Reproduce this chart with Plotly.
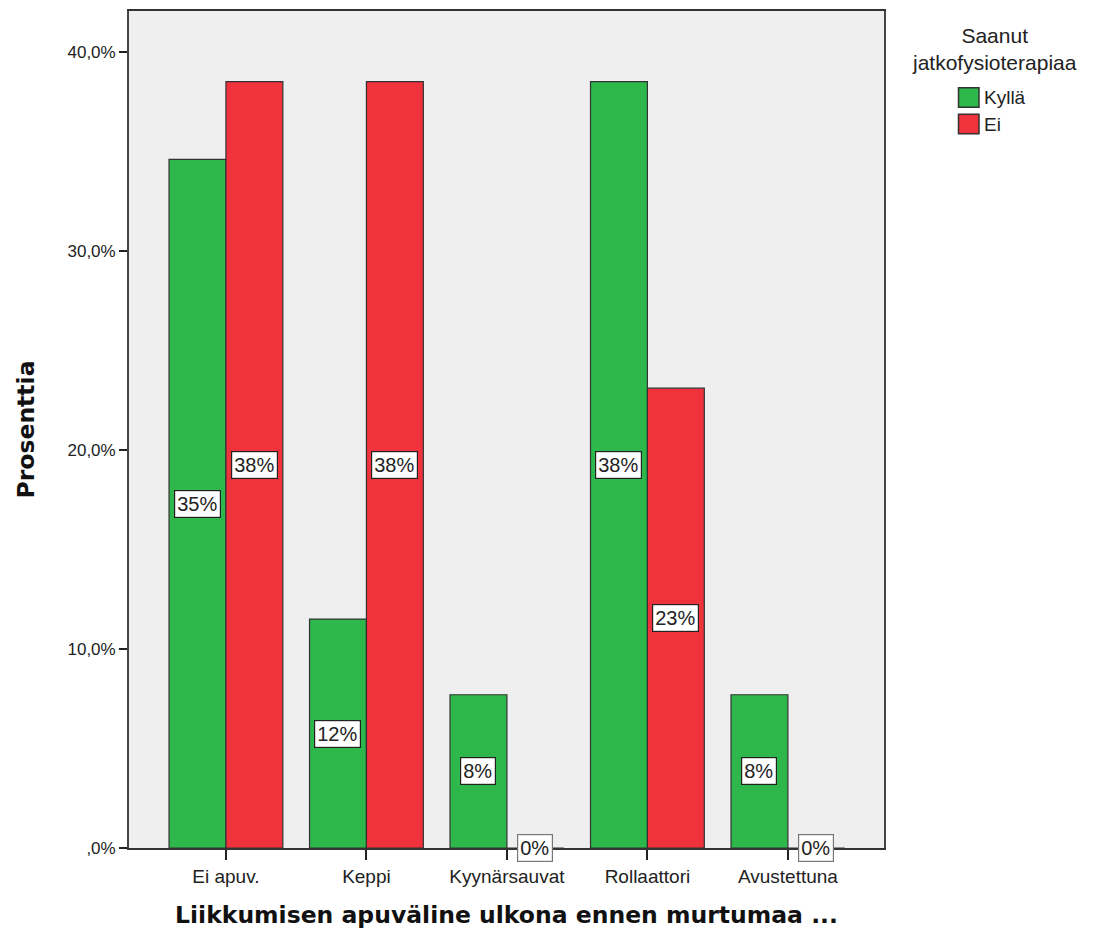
import plotly.graph_objects as go

categories = ["Ei apuv.", "Keppi", "Kyynärsauvat", "Rollaattori", "Avustettuna"]
kylla = [34.6, 11.5, 7.7, 38.5, 7.7]
ei = [38.5, 38.5, 0.0, 23.1, 0.0]
kylla_labels = ["35%", "12%", "8%", "38%", "8%"]
ei_labels = ["38%", "38%", "0%", "23%", "0%"]
series_names = ["Kyllä", "Ei"]
legend_title = ["Saanut", "jatkofysioterapiaa"]
y_tickvals = [0, 10, 20, 30, 40]
y_ticktext = [",0%", "10,0%", "20,0%", "30,0%", "40,0%"]

GREEN = "#2eb84c"
RED = "#f0323c"
EDGE = "#333333"
FONT = "Liberation Sans, Arial"
xs = list(range(len(categories)))

# page body has an 8px margin; plot area should be at screen x 129..884, y 8..848
W, H = 1095, 930
L, T = 121, 1
PW, PH = 755, 839
R = W - L - PW
B = H - T - PH


def px(xs_):
    return (xs_ - 129) / PW


def py(ys_):
    return (848 - ys_) / PH


fig = go.Figure()
fig.add_trace(go.Bar(x=xs, y=kylla, name=series_names[0],
                     marker=dict(color=GREEN, line=dict(color=EDGE, width=1.2)), offsetgroup="a"))
fig.add_trace(go.Bar(x=xs, y=ei, name=series_names[1],
                     marker=dict(color=RED, line=dict(color=EDGE, width=1.2)), offsetgroup="b"))

bargap = 0.19
half = (1 - bargap) / 4
annotations = []
for vals, labs, sign in [(kylla, kylla_labels, -1), (ei, ei_labels, 1)]:
    for i, (v, t) in enumerate(zip(vals, labs)):
        annotations.append(dict(
            x=i + sign * half, y=v / 2, xref="x", yref="y", text=t, showarrow=False,
            font=dict(family=FONT, size=20, color="#222"),
            bgcolor="white", bordercolor="#222" if v > 0 else "#777", borderwidth=1.2, borderpad=2,
        ))

# custom legend (title + swatches)
annotations.append(dict(x=px(994), y=py(47), xref="paper", yref="paper",
                        text="<br>".join(legend_title),
                        showarrow=False, xanchor="center", yanchor="middle", align="center",
                        font=dict(family=FONT, size=21, color="#222")))
shapes = []
for k, (name, col) in enumerate(zip(series_names, [GREEN, RED])):
    top = 86 + k * 26.5
    shapes.append(dict(type="rect", xref="paper", yref="paper",
                       x0=px(958.5), x1=px(979), y0=py(top + 19.5), y1=py(top),
                       fillcolor=col, line=dict(color=EDGE, width=1.5)))
    annotations.append(dict(x=px(982), y=py(top + 10), xref="paper", yref="paper", text=name,
                            showarrow=False, xanchor="left", yanchor="middle",
                            font=dict(family=FONT, size=19, color="#222")))

fig.update_layout(
    width=W, height=H,
    margin=dict(l=L, r=R, t=T, b=B),
    paper_bgcolor="white", plot_bgcolor="#efefef",
    barmode="group", bargap=bargap, bargroupgap=0,
    annotations=annotations, shapes=shapes,
    font=dict(family=FONT, size=18, color="#222"),
    showlegend=False,
)
fig.update_xaxes(
    range=[-0.69, 4.684], tickvals=xs, ticktext=categories,
    ticks="outside", ticklen=10, tickcolor="#222", tickwidth=1.5,
    showline=True, linecolor="#333", linewidth=1.8, mirror=True, showgrid=False, zeroline=False,
    tickfont=dict(family=FONT, size=19, color="#222"),
    title=dict(text="Liikkumisen apuväline ulkona ennen murtumaa ...", standoff=21,
               font=dict(family="DejaVu Sans", size=23.5, color="#111", weight="bold")),
)
fig.update_yaxes(
    range=[0, 42.05], tickvals=y_tickvals, ticktext=y_ticktext,
    ticks="outside", ticklen=8, tickcolor="#222", tickwidth=1.5,
    showline=True, linecolor="#444", linewidth=1.8, mirror=True, showgrid=False, zeroline=False,
    tickfont=dict(family=FONT, size=17, color="#222"),
    title=dict(text="Prosenttia", standoff=26,
               font=dict(family="DejaVu Sans", size=23.5, color="#111", weight="bold")),
)
fig.write_html("out.html")
